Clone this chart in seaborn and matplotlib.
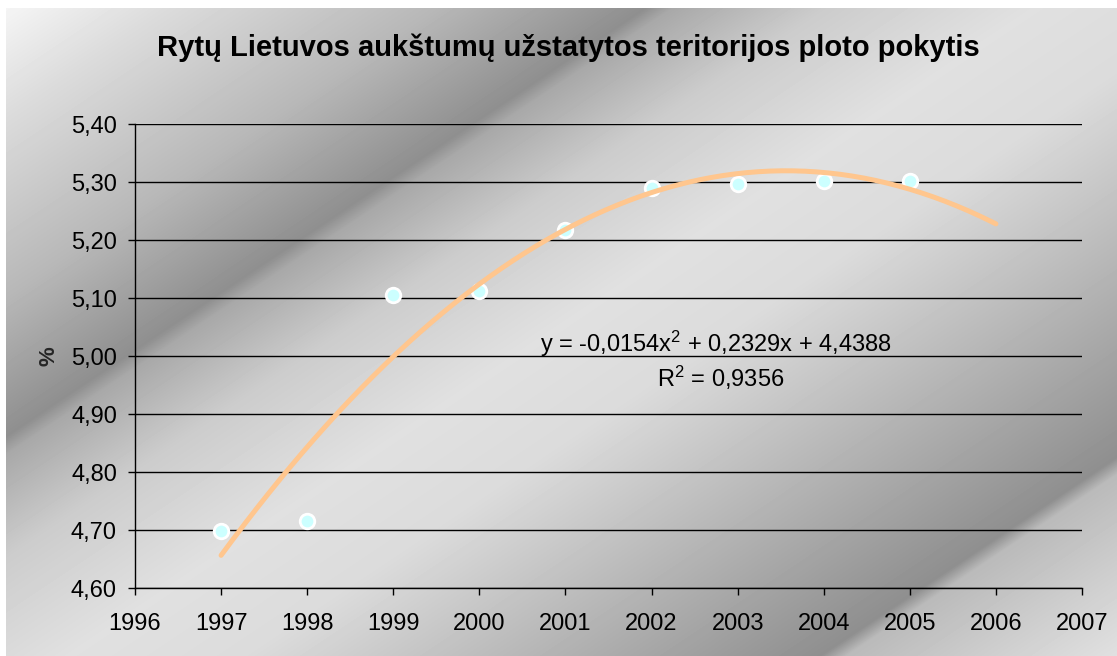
import matplotlib
matplotlib.use("Agg")
import matplotlib.pyplot as plt
import numpy as np
import pandas as pd
import seaborn as sns

# data
years = [1997, 1998, 1999, 2000, 2001, 2002, 2003, 2004, 2005]
share = [4.698, 4.716, 5.105, 5.112, 5.217, 5.290, 5.297, 5.301, 5.302]
trend_coef = [-0.0154, 0.2329, 4.4388]   # excel trendline, x = 1 for 1997
trend_years = [1997, 2006]
y_ticks = [4.6, 4.7, 4.8, 4.9, 5.0, 5.1, 5.2, 5.3, 5.4]
x_ticks = list(range(1996, 2008))

title = "Rytų Lietuvos aukštumų užstatytos teritorijos ploto pokytis"
eq_text = "y = -0,0154x$^2$ + 0,2329x + 4,4388"
r2_text = "R$^2$ = 0,9356"

df = pd.DataFrame({"year": years, "share": share})
tx = np.linspace(trend_years[0], trend_years[1], 200)
ti = tx - trend_years[0] + 1
trend = pd.DataFrame({"year": tx, "share": np.polyval(trend_coef, ti)})

sns.set_style("white")
plt.rcParams["font.family"] = ["Liberation Sans", "DejaVu Sans"]
plt.rcParams["text.color"] = "black"
plt.rcParams["mathtext.fontset"] = "custom"
plt.rcParams["mathtext.rm"] = "Liberation Sans"
plt.rcParams["mathtext.it"] = "Liberation Sans"
plt.rcParams["mathtext.default"] = "regular"

fig = plt.figure(figsize=(11.17, 6.56), dpi=100)
fig.patch.set_facecolor("white")

# gradient background (excel-like fill)
bg = fig.add_axes([6 / 1117, 0, 1 - 6 / 1117, 1 - 8 / 656], zorder=-5)
X, Y = np.meshgrid(np.arange(6, 1117), np.arange(8, 656))
s = 0.67 * X + Y
sp = [0, 120, 300, 440, 458, 560, 700, 820, 1000, 1205, 1222, 1404]
gv = [0.97, 0.86, 0.72, 0.56, 0.66, 0.80, 0.88, 0.86, 0.72, 0.56, 0.73, 0.88]
bg.imshow(np.interp(s, sp, gv), cmap="gray", vmin=0, vmax=1, aspect="auto",
          interpolation="bilinear")
bg.axis("off")

ax = fig.add_axes([135 / 1117, 1 - 588 / 656, (1082 - 135) / 1117, (588 - 124) / 656])
ax.set_facecolor("none")

sns.scatterplot(data=df, x="year", y="share", ax=ax, s=110, color="#ccffff",
                edgecolor="white", linewidth=2, zorder=3)
sns.lineplot(data=trend, x="year", y="share", ax=ax, color="#ffc68e",
             linewidth=3.6, zorder=4)

ax.set_xlim(1996, 2007)
ax.set_ylim(4.6, 5.4)
ax.set_xticks(x_ticks)
ax.set_xticklabels([str(v) for v in x_ticks])
ax.set_yticks(y_ticks)
ax.set_yticklabels([f"{v:.2f}".replace(".", ",") for v in y_ticks])
ax.grid(axis="y", color="black", linewidth=1)
ax.grid(axis="x", visible=False)
for side in ["top", "right"]:
    ax.spines[side].set_visible(False)
for side in ["left", "bottom"]:
    ax.spines[side].set_color("black")
    ax.spines[side].set_linewidth(1)
ax.tick_params(axis="both", direction="out", length=5, width=1, color="black",
               labelsize=17, labelcolor="black")
ax.tick_params(axis="y", left=True, pad=8)
ax.tick_params(axis="x", bottom=True, pad=13)
ax.set_xlabel("")
ax.set_ylabel("%", fontsize=16, fontweight="bold", labelpad=8)

ax.text(2002.75, 5.021, eq_text, fontsize=17, ha="center", va="center")
ax.text(2002.8, 4.963, r2_text, fontsize=17, ha="center", va="center")

fig.text(568 / 1117, 1 - 48 / 656, title, fontsize=21, fontweight="bold",
         ha="center", va="center")

fig.savefig("out.png", dpi=100)
